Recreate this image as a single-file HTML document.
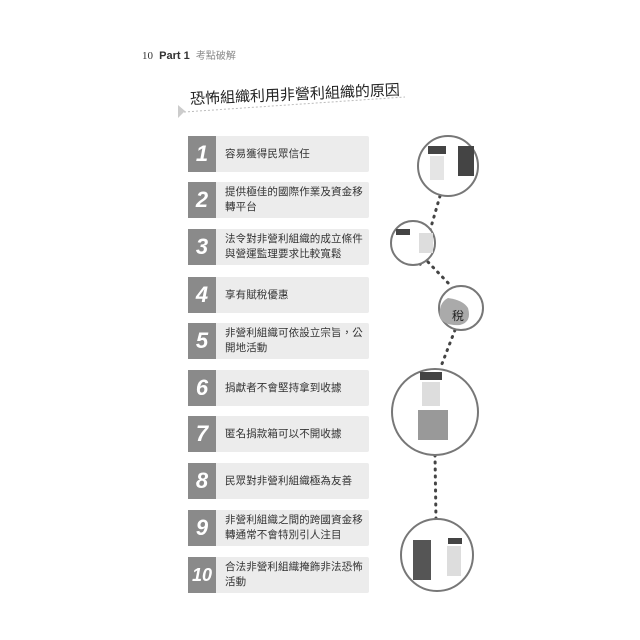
<!DOCTYPE html>
<html><head><meta charset="utf-8"><style>
body{margin:0;width:640px;height:640px;background:#fff;position:relative;overflow:hidden;font-family:"Liberation Sans","Noto Sans CJK TC",sans-serif}
.row{position:absolute;left:188px;width:181px;height:36px;background:#ececec;border-radius:2px}
.num{position:absolute;left:0;top:0;width:28px;height:36px;background:#8a8a8a;color:#fff;font-style:italic;font-weight:bold;font-size:22px;line-height:36px;text-align:center}
.num.s{font-size:18px}
.t{position:absolute;left:37px;top:0;height:36px;display:flex;align-items:center;font-size:10.5px;line-height:15px;color:#333;width:140px;letter-spacing:0.1px}
</style></head><body>
<div style="position:absolute;left:142px;top:47px;font-size:11px;color:#333"><span style="font-family:'Liberation Serif',serif">10</span>&nbsp;&nbsp;<b>Part 1</b>&nbsp;&nbsp;<span style="color:#888;font-size:10px">考點破解</span></div>
<div style="position:absolute;left:190px;top:88px;font-size:15px;color:#222;transform:rotate(-2.5deg);transform-origin:left center;white-space:nowrap">恐怖組織利用非營利組織的原因</div>
<svg width="640" height="640" style="position:absolute;left:0;top:0">
<polygon points="178,105 185,111 178,118" fill="#ccc"/>
<line x1="184" y1="112" x2="405" y2="97" stroke="#bbb" stroke-dasharray="2,2"/>
<g>
<line x1="440" y1="196" x2="420" y2="265" stroke="#444" stroke-width="3" stroke-dasharray="1,6" stroke-linecap="round"/>
<line x1="428" y1="262" x2="452" y2="287" stroke="#444" stroke-width="3" stroke-dasharray="1,6" stroke-linecap="round"/>
<line x1="455" y1="330" x2="440" y2="369" stroke="#444" stroke-width="3" stroke-dasharray="1,6" stroke-linecap="round"/>
<line x1="435" y1="455" x2="436" y2="520" stroke="#444" stroke-width="3" stroke-dasharray="1,6" stroke-linecap="round"/>
</g>
<g fill="#fff" stroke="#777" stroke-width="2">
<circle cx="448" cy="166" r="30"/>
<circle cx="413" cy="243" r="22"/>
<circle cx="461" cy="308" r="22"/>
<circle cx="435" cy="412" r="43"/>
<circle cx="437" cy="555" r="36"/>
</g>
<g fill="#444">
<rect x="428" y="146" width="18" height="8"/><rect x="458" y="146" width="16" height="30"/>
<rect x="430" y="156" width="14" height="24" fill="#e5e5e5"/>
<rect x="396" y="229" width="14" height="6"/><rect x="419" y="233" width="14" height="20" fill="#ddd"/>
<rect x="420" y="372" width="22" height="8"/><rect x="422" y="382" width="18" height="24" fill="#ddd"/>
<rect x="413" y="540" width="18" height="40" fill="#555"/><rect x="448" y="538" width="14" height="6"/>
<rect x="447" y="546" width="14" height="30" fill="#ddd"/>
</g>
<path d="M448 298 q-10 5 -8 20 q5 8 20 7 q12 -3 8 -17 q-5 -8 -20 -10z" fill="#aaa"/>
<text x="452" y="320" font-size="12" fill="#222" font-family="Noto Sans CJK TC">稅</text>
<rect x="418" y="410" width="30" height="30" fill="#999"/>
</svg>
<div class="row" style="top:136px"><div class="num">1</div><div class="t">容易獲得民眾信任</div></div>
<div class="row" style="top:182px"><div class="num">2</div><div class="t">提供極佳的國際作業及資金移<br>轉平台</div></div>
<div class="row" style="top:229px"><div class="num">3</div><div class="t">法令對非營利組織的成立條件<br>與營運監理要求比較寬鬆</div></div>
<div class="row" style="top:277px"><div class="num">4</div><div class="t">享有賦稅優惠</div></div>
<div class="row" style="top:323px"><div class="num">5</div><div class="t">非營利組織可依設立宗旨，公<br>開地活動</div></div>
<div class="row" style="top:370px"><div class="num">6</div><div class="t">捐獻者不會堅持拿到收據</div></div>
<div class="row" style="top:416px"><div class="num">7</div><div class="t">匿名捐款箱可以不開收據</div></div>
<div class="row" style="top:463px"><div class="num">8</div><div class="t">民眾對非營利組織極為友善</div></div>
<div class="row" style="top:510px"><div class="num">9</div><div class="t">非營利組織之間的跨國資金移<br>轉通常不會特別引人注目</div></div>
<div class="row" style="top:557px"><div class="num s">10</div><div class="t">合法非營利組織掩飾非法恐怖<br>活動</div></div>
</body></html>
